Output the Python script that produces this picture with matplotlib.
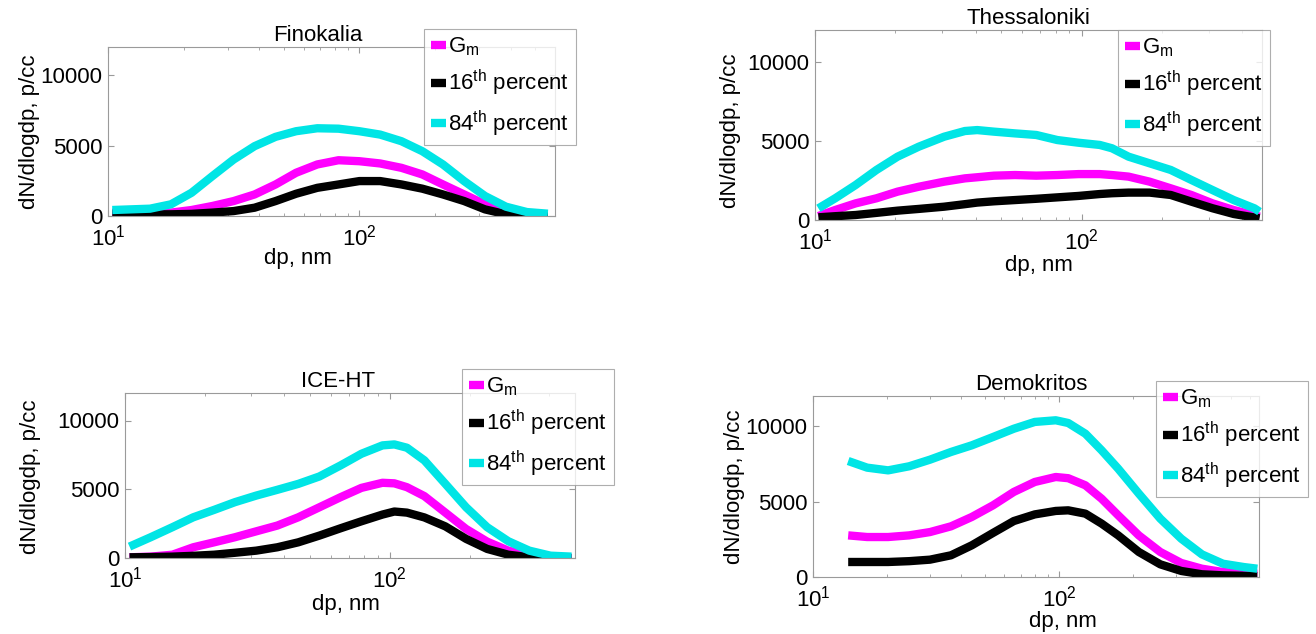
import matplotlib
matplotlib.use("Agg")
import matplotlib.pyplot as plt
from matplotlib.ticker import LogLocator, NullFormatter, FixedLocator

plt.rcParams['font.family'] = 'Liberation Sans'
plt.rcParams['mathtext.fontset'] = 'custom'
plt.rcParams['mathtext.rm'] = 'Liberation Sans'
plt.rcParams['mathtext.it'] = 'Liberation Sans:italic'
plt.rcParams['mathtext.default'] = 'regular'

# --- size distributions (dN/dlogdp, p/cc) ---
fin_dp = [10.4, 14.7, 17.8, 21.5, 26, 31.6, 38.3, 46.4, 56, 68, 82.6, 100,
          121, 147, 178, 215, 261, 316, 383, 464, 562]
fin_gm = [240, 240, 240, 425, 710, 1060, 1530, 2240, 3070, 3660, 3960, 3890,
          3730, 3420, 2950, 2240, 1530, 830, 280, 120, 70]
fin_p16 = [165, 120, 120, 150, 240, 350, 590, 1060, 1580, 2000, 2240, 2480,
           2480, 2240, 1940, 1530, 1060, 470, 120, 50, 50]
fin_p84 = [425, 520, 830, 1650, 2830, 4010, 4960, 5620, 6020, 6230, 6200, 6020,
           5780, 5310, 4600, 3660, 2480, 1420, 660, 280, 165]

the_dp = [10.3, 11.9, 14.2, 17.0, 20.4, 24.5, 30.5, 36.5, 40.6, 46.9, 56.3, 67.6,
          81.1, 97.4, 117, 130, 150, 180, 216, 258, 310, 372, 445, 465]
the_gm = [250, 630, 1050, 1370, 1790, 2100, 2420, 2630, 2700, 2800, 2840, 2800,
          2840, 2900, 2900, 2840, 2740, 2420, 2000, 1580, 1050, 630, 300, 210]
the_p16 = [170, 240, 315, 450, 590, 700, 840, 1000, 1100, 1180, 1260, 1340,
           1430, 1520, 1640, 1690, 1730, 1730, 1580, 1160, 740, 380, 160, 105]
the_p84 = [737, 1370, 2210, 3160, 4000, 4630, 5260, 5620, 5680, 5580, 5470, 5370,
           5050, 4880, 4740, 4530, 4000, 3580, 3160, 2530, 1890, 1260, 737, 526]

ice_dp = [10.4, 12.5, 15.1, 18.1, 21.7, 26.0, 31.3, 37.6, 45.1, 54.2, 65.1, 78.1,
          93.8, 104, 116, 135, 162, 194, 233, 280, 336, 404, 485]
ice_gm = [50, 100, 240, 780, 1140, 1510, 1940, 2360, 2960, 3690, 4420, 5100,
          5470, 5430, 5150, 4500, 3300, 2110, 1190, 535, 195, 50, 0]
ice_p16 = [50, 70, 100, 160, 240, 380, 535, 780, 1140, 1630, 2160, 2670,
           3160, 3380, 3300, 2950, 2300, 1390, 660, 240, 50, 0, 0]
ice_p84 = [830, 1510, 2240, 2960, 3500, 4060, 4540, 4960, 5390, 5930, 6730, 7580,
           8190, 8260, 8020, 7100, 5390, 3690, 2240, 1220, 535, 170, 100]

dem_dp = [13.9, 16.6, 20.2, 24.6, 29.9, 36.4, 44.2, 53.9, 65.5, 79.7, 97.0, 109,
          128, 149, 174, 211, 258, 314, 381, 464, 564, 640]
dem_gm = [2760, 2650, 2650, 2760, 2980, 3360, 3980, 4750, 5640, 6300, 6630, 6550,
          6080, 5190, 4090, 2760, 1660, 930, 550, 330, 250, 220]
dem_p16 = [995, 995, 995, 1050, 1150, 1440, 2100, 2920, 3710, 4150, 4380, 4420,
           4200, 3540, 2760, 1660, 840, 400, 180, 110, 80, 70]
dem_p84 = [7690, 7250, 7070, 7340, 7780, 8290, 8730, 9280, 9830, 10280, 10390, 10210,
           9500, 8400, 7180, 5530, 3870, 2540, 1500, 880, 660, 550]

labels = [r'G$_{m}$', r'16$^{th}$ percent', r'84$^{th}$ percent']
colors = ['#ff00ff', '#000000', '#00e5e5']

W, H = 1316, 634
FS = 16
fig = plt.figure(figsize=(W / 100, H / 100), dpi=100)

grey = '#9a9a9a'


def panel(box, title, dp, series, xmax, leg_xy, title_x, xlab_xy, ylab_xy):
    left, top, right, bottom = box
    ax = fig.add_axes([left / W, 1 - bottom / H, (right - left) / W, (bottom - top) / H])
    for y, c, lab in zip(series, colors, labels):
        ax.plot(dp, y, color=c, lw=6, label=lab, solid_capstyle='butt',
                solid_joinstyle='round')
    ax.set_xscale('log')
    ax.set_xlim(10, xmax)
    ax.set_ylim(0, 12000)
    ax.yaxis.set_major_locator(FixedLocator([0, 5000, 10000]))
    ax.xaxis.set_major_locator(LogLocator(base=10))
    ax.xaxis.set_minor_locator(LogLocator(base=10, subs=range(2, 10)))
    ax.xaxis.set_minor_formatter(NullFormatter())
    ax.tick_params(which='both', direction='in', top=True, right=True,
                   color=grey, labelsize=FS)
    ax.tick_params(axis='x', pad=6)
    ax.tick_params(axis='y', pad=4)
    ax.tick_params(which='major', length=4)
    ax.tick_params(which='minor', length=2)
    for s in ax.spines.values():
        s.set_color(grey)
        s.set_linewidth(0.8)
    t = ax.set_title(title, fontsize=FS, pad=4)
    t.set_x(title_x)
    ax.set_xlabel('dp, nm', fontsize=FS, va='center')
    ax.set_ylabel('dN/dlogdp, p/cc', fontsize=FS, va='center')
    ax.xaxis.set_label_coords(*xlab_xy)
    ax.yaxis.set_label_coords(*ylab_xy)
    leg = ax.legend(loc='upper left', bbox_to_anchor=(leg_xy[0] / W, 1 - leg_xy[1] / H),
                    bbox_transform=fig.transFigure, fontsize=FS, frameon=True,
                    fancybox=False, handlelength=0.7, handletextpad=0.1,
                    borderpad=0.3, labelspacing=0.45, borderaxespad=0)
    leg.get_frame().set_edgecolor(grey)
    leg.get_frame().set_linewidth(0.8)
    return ax


panel((108, 47, 555, 216), 'Finokalia', fin_dp, [fin_gm, fin_p16, fin_p84], 600,
      (424, 29), 0.47, (0.425, -0.25), (-0.175, 0.5))
panel((815, 30, 1262, 220), 'Thessaloniki', the_dp, [the_gm, the_p16, the_p84], 475,
      (1118, 30), 0.477, (0.50, -0.237), (-0.19, 0.47))
panel((125, 393, 575, 558), 'ICE-HT', ice_dp, [ice_gm, ice_p16, ice_p84], 500,
      (462, 369), 0.473, (0.49, -0.28), (-0.21, 0.49))
panel((813, 396, 1259, 577), 'Demokritos', dem_dp, [dem_gm, dem_p16, dem_p84], 650,
      (1156, 381), 0.489, (0.56, -0.245), (-0.175, 0.5))

fig.savefig('out.png', dpi=100)
